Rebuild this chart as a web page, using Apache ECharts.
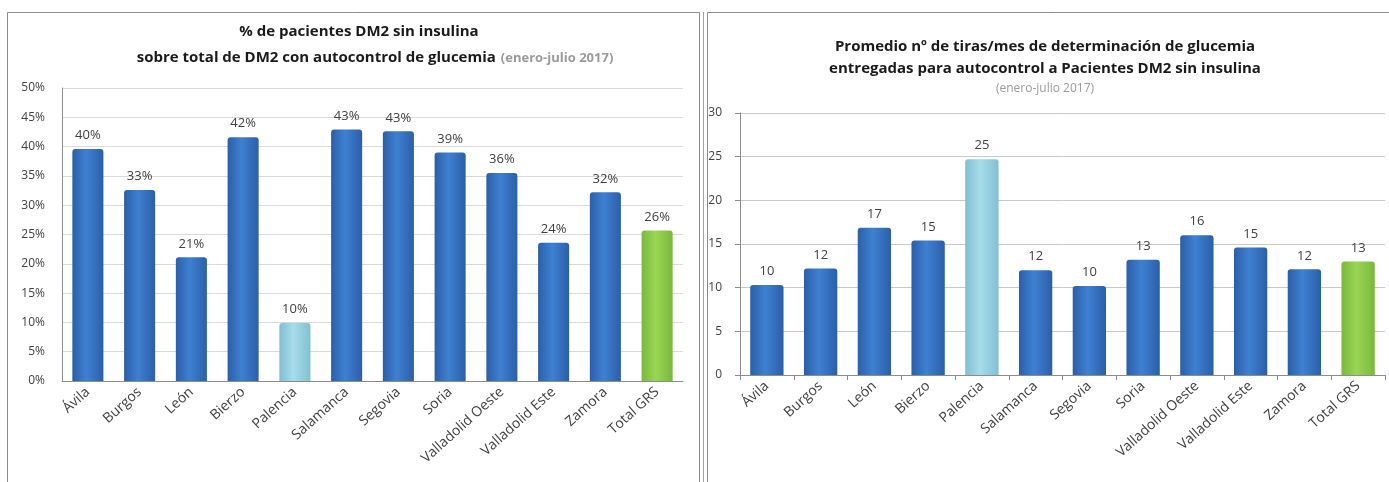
<!DOCTYPE html>
<html>
<head>
<meta charset="utf-8">
<script src="https://cdn.jsdelivr.net/npm/echarts@6/dist/echarts.min.js"></script>
<style>
  html, body { margin: 0; padding: 0; background: #fff; }
  #main { width: 1389px; height: 482px; }
</style>
</head>
<body>
<div id="main"></div>
<script>
// categorias (iguales en los dos graficos)
const categorias = ['Ávila', 'Burgos', 'León', 'Bierzo', 'Palencia', 'Salamanca', 'Segovia',
  'Soria', 'Valladolid Oeste', 'Valladolid Este', 'Zamora', 'Total GRS']
// % de pacientes DM2 sin insulina con autocontrol
const pctSinInsulina = [39.6, 32.6, 21.1, 41.6, 9.9, 42.9, 42.6, 39.0, 35.5, 23.6, 32.2, 25.7]
// promedio de tiras/mes
const tirasMes = [10.3, 12.2, 16.85, 15.4, 24.7, 12.0, 10.2, 13.2, 16.0, 14.6, 12.1, 13.0]
// ticks de los ejes
const ticksPct = [0, 50, 5]
const ticksTiras = [0, 30, 5]

const fuente = '"Open Sans", sans-serif'

// color de cada barra: azul, Palencia en celeste, total en verde
function colorBarra (cat) {
  let stops
  if (cat === 'Palencia') {
    stops = ['#7fbfd2', '#a8dcea', '#7fbfd2']
  } else if (cat === 'Total GRS') {
    stops = ['#79b83c', '#9ad655', '#79b83c']
  } else {
    stops = ['#2b5fa8', '#3f80d2', '#2b5fa8']
  }
  return {
    type: 'linear', x: 0, y: 0, x2: 1, y2: 0,
    colorStops: [
      { offset: 0, color: stops[0] },
      { offset: 0.45, color: stops[1] },
      { offset: 1, color: stops[2] }
    ]
  }
}

function datosBarras (valores) {
  return valores.map((v, i) => ({
    value: v,
    itemStyle: { color: colorBarra(categorias[i]), borderRadius: [3, 3, 0, 0] }
  }))
}

const etiquetaEjeX = {
  rotate: 42,
  interval: 0,
  margin: 9,
  color: '#404040',
  fontSize: 14,
  fontFamily: fuente
}

const chart = echarts.init(document.getElementById('main'))

const option = {
  animation: false,
  backgroundColor: '#fff',
  title: [
    {
      text: '% de pacientes DM2 sin insulina',
      left: 354, top: 19, textAlign: 'center',
      textStyle: { fontSize: 15, fontWeight: 'bold', color: '#1a1a1a', fontFamily: fuente }
    },
    {
      text: '{b|sobre total de DM2 con autocontrol de glucemia} {g|(enero-julio 2017)}',
      left: 370, top: 44, textAlign: 'center',
      textStyle: {
        rich: {
          b: { fontSize: 15, fontWeight: 'bold', color: '#1a1a1a', fontFamily: fuente },
          g: { fontSize: 13, color: '#9a9a9a', fontFamily: fuente }
        }
      }
    },
    {
      text: 'Promedio nº de tiras/mes de determinación de glucemia',
      left: 1040, top: 34, textAlign: 'center',
      textStyle: { fontSize: 15, fontWeight: 'bold', color: '#1a1a1a', fontFamily: fuente }
    },
    {
      text: 'entregadas para autocontrol a Pacientes DM2 sin insulina',
      left: 1040, top: 56, textAlign: 'center',
      textStyle: { fontSize: 15, fontWeight: 'bold', color: '#1a1a1a', fontFamily: fuente }
    },
    {
      text: '(enero-julio 2017)',
      left: 1040, top: 78, textAlign: 'center',
      textStyle: { fontSize: 12, fontWeight: 'normal', color: '#9a9a9a', fontFamily: fuente }
    }
  ],
  // marcos de los dos graficos
  graphic: [
    { type: 'rect', shape: { x: 7.5, y: 12.5, width: 692, height: 490 }, style: { fill: 'none', stroke: '#8c8c8c', lineWidth: 1 } },
    { type: 'line', shape: { x1: 703.5, y1: 12, x2: 703.5, y2: 482 }, style: { stroke: '#a0a0a0', lineWidth: 1 } },
    { type: 'rect', shape: { x: 707.5, y: 12.5, width: 700, height: 490 }, style: { fill: 'none', stroke: '#8c8c8c', lineWidth: 1 } }
  ],
  grid: [
    { left: 62, top: 88, right: 706, bottom: 101 },
    { left: 740, top: 113, right: 4, bottom: 107 }
  ],
  xAxis: [
    {
      gridIndex: 0,
      type: 'category',
      data: categorias,
      axisLine: { lineStyle: { color: '#8c8c8c' } },
      axisTick: { show: false },
      axisLabel: etiquetaEjeX
    },
    {
      gridIndex: 1,
      type: 'category',
      data: categorias,
      axisLine: { lineStyle: { color: '#8c8c8c' } },
      axisTick: { show: true, length: 5, lineStyle: { color: '#8c8c8c' } },
      axisLabel: etiquetaEjeX
    }
  ],
  yAxis: [
    {
      gridIndex: 0,
      type: 'value',
      min: ticksPct[0], max: ticksPct[1], interval: ticksPct[2],
      axisLine: { show: true, lineStyle: { color: '#8c8c8c' } },
      axisTick: { show: false },
      axisLabel: { formatter: '{value}%', margin: 17, color: '#404040', fontSize: 12, fontFamily: fuente },
      splitLine: { lineStyle: { color: '#d9d9d9' } }
    },
    {
      gridIndex: 1,
      type: 'value',
      min: ticksTiras[0], max: ticksTiras[1], interval: ticksTiras[2],
      axisLine: { show: true, lineStyle: { color: '#8c8c8c' } },
      axisTick: { show: true, length: 5, lineStyle: { color: '#8c8c8c' } },
      axisLabel: { margin: 18, color: '#404040', fontSize: 12, fontFamily: fuente },
      splitLine: { lineStyle: { color: '#c8c8c8' } }
    }
  ],
  series: [
    {
      name: '% sin insulina',
      type: 'bar',
      xAxisIndex: 0,
      yAxisIndex: 0,
      barWidth: '60%',
      data: datosBarras(pctSinInsulina),
      label: {
        show: true,
        position: 'top',
        distance: 7,
        color: '#404040',
        fontSize: 13,
        fontFamily: fuente,
        formatter: p => Math.round(p.value) + '%'
      }
    },
    {
      name: 'tiras/mes',
      type: 'bar',
      xAxisIndex: 1,
      yAxisIndex: 1,
      barWidth: '62%',
      data: datosBarras(tirasMes),
      label: {
        show: true,
        position: 'top',
        distance: 7,
        color: '#404040',
        fontSize: 13,
        fontFamily: fuente,
        formatter: p => Math.round(p.value)
      }
    }
  ]
}

chart.setOption(option)
</script>
</body>
</html>
